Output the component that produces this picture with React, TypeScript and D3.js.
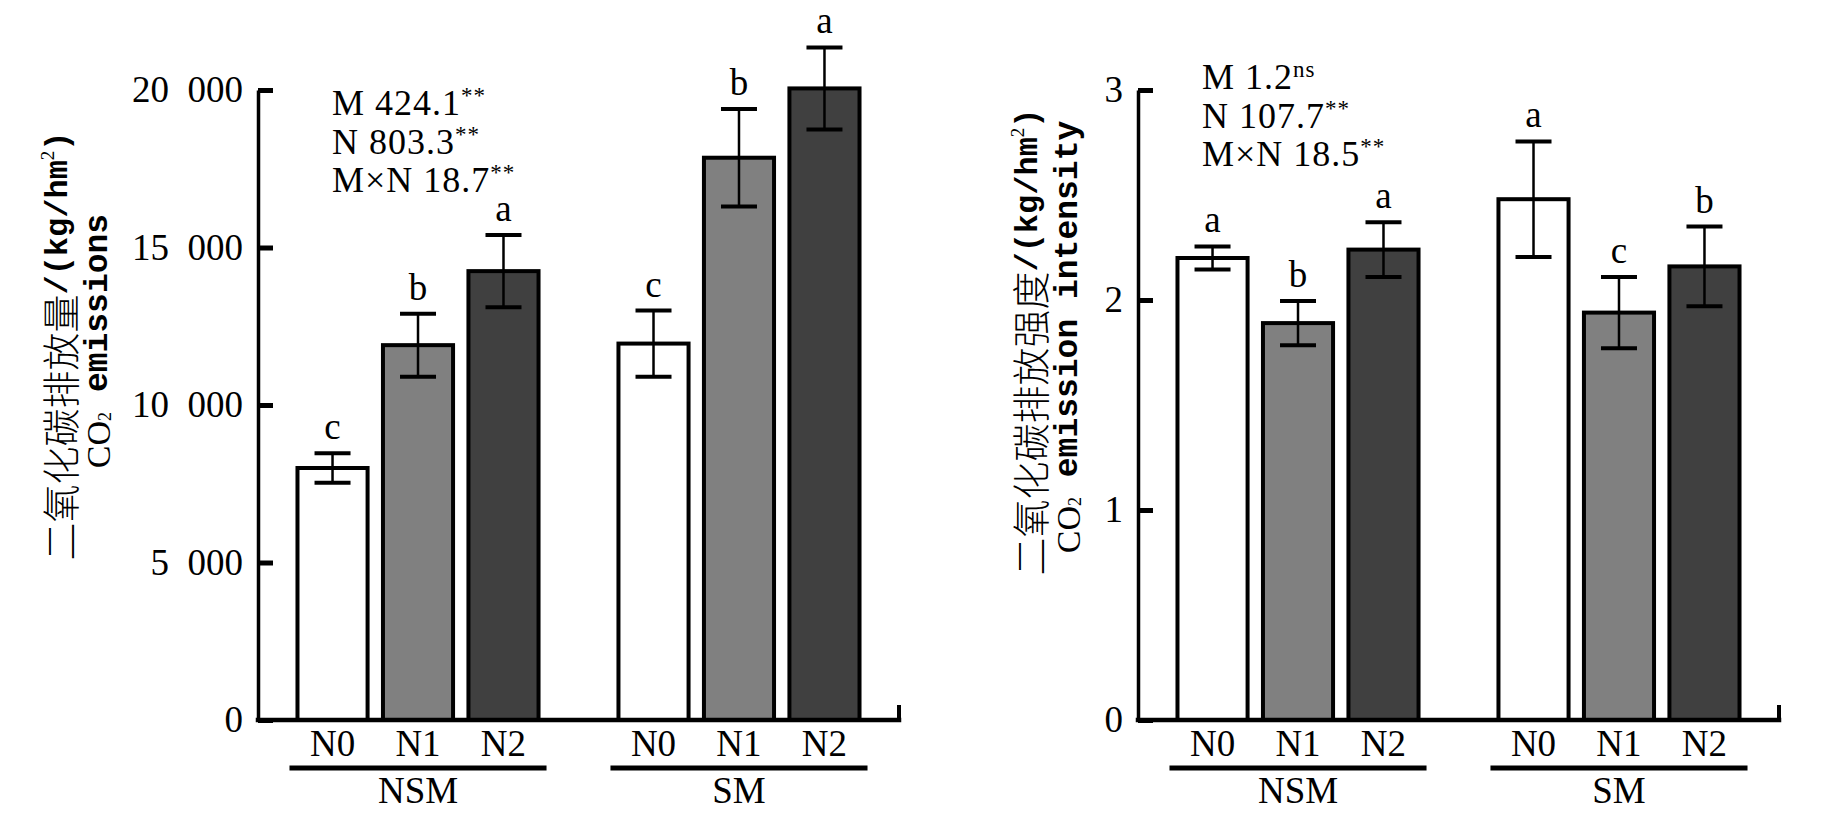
import React, { useEffect, useRef } from "react";
import * as d3 from "d3";

// categories
const groups = ["NSM", "SM"];
const levels = ["N0", "N1", "N2"];

// CO2 emissions (kg/hm2)
const emissionNSM = [8000, 11900, 14250];
const emissionSM = [11950, 17850, 20050];
const emissionErrNSM = [470, 1000, 1150];
const emissionErrSM = [1050, 1550, 1300];
const emissionLettersNSM = ["c", "b", "a"];
const emissionLettersSM = ["c", "b", "a"];
const emissionTicks = [0, 5000, 10000, 15000, 20000];
const emissionStats = [
  ["M", "424.1", "**"],
  ["N", "803.3", "**"],
  ["M×N", "18.7", "**"],
];

// CO2 emission intensity
const intensityNSM = [2.2, 1.89, 2.24];
const intensitySM = [2.48, 1.94, 2.16];
const intensityErrNSM = [0.055, 0.105, 0.13];
const intensityErrSM = [0.275, 0.17, 0.19];
const intensityLettersNSM = ["a", "b", "a"];
const intensityLettersSM = ["a", "c", "b"];
const intensityTicks = [0, 1, 2, 3];
const intensityStats = [
  ["M", "1.2", "ns"],
  ["N", "107.7", "**"],
  ["M×N", "18.5", "**"],
];

const fills = ["#ffffff", "#808080", "#404040"];
const serif = "'Liberation Serif', 'Times New Roman', serif";
const mono = "'Liberation Mono', 'Courier New', monospace";
const cjk = "'Noto Sans CJK SC', sans-serif";

export default function App() {
  const svgRef = useRef<SVGSVGElement>(null);

  useEffect(() => {
    if (!svgRef.current) return;
    const svg = d3.select(svgRef.current);
    svg.selectAll("*").remove();

    const panels = [
      {
        x0: 258,
        max: 20000,
        ticks: emissionTicks,
        fmt: (d: number) => (d === 0 ? "0" : d3.format(",")(d).replace(",", "\u2002")),
        means: [emissionNSM, emissionSM],
        errs: [emissionErrNSM, emissionErrSM],
        letters: [emissionLettersNSM, emissionLettersSM],
        stats: emissionStats,
        statX: 332,
        statY: 115,
        titleCn: "二氧化碳排放量",
        titleEn: " emissions",
        titleX: [58, 98],
        titleY: 346,
      },
      {
        x0: 1138,
        max: 3,
        ticks: intensityTicks,
        fmt: (d: number) => String(d),
        means: [intensityNSM, intensitySM],
        errs: [intensityErrNSM, intensityErrSM],
        letters: [intensityLettersNSM, intensityLettersSM],
        stats: intensityStats,
        statX: 1202,
        statY: 89,
        titleCn: "二氧化碳排放强度",
        titleEn: " emission intensity",
        titleX: [1028, 1068],
        titleY: 342,
      },
    ];

    panels.forEach((p) => {
      const g = svg.append("g");
      const plotW = 641;
      const baseY = 720;

      const x = d3
        .scaleBand<string>()
        .domain(groups)
        .range([p.x0, p.x0 + plotW])
        .paddingInner(0.249)
        .paddingOuter(0.123);
      const xi = d3
        .scaleBand<string>()
        .domain(levels)
        .range([0, x.bandwidth()])
        .paddingInner(0.18)
        .paddingOuter(0);
      const y = d3.scaleLinear().domain([0, p.max]).range([baseY, 90]);

      // bars
      groups.forEach((grp, gi) => {
        levels.forEach((lv, li) => {
          const v = p.means[gi][li];
          const e = p.errs[gi][li];
          const bx = (x(grp) as number) + (xi(lv) as number);
          const cx = bx + xi.bandwidth() / 2;

          g.append("rect")
            .attr("x", bx)
            .attr("y", y(v))
            .attr("width", xi.bandwidth())
            .attr("height", y(0) - y(v))
            .attr("fill", fills[li])
            .attr("stroke", "#000")
            .attr("stroke-width", 4);

          // error bar
          g.append("line")
            .attr("x1", cx)
            .attr("x2", cx)
            .attr("y1", y(v - e))
            .attr("y2", y(v + e))
            .attr("stroke", "#000")
            .attr("stroke-width", 2.5);
          [v - e, v + e].forEach((yy) => {
            g.append("line")
              .attr("x1", cx - 18)
              .attr("x2", cx + 18)
              .attr("y1", y(yy))
              .attr("y2", y(yy))
              .attr("stroke", "#000")
              .attr("stroke-width", 4);
          });

          g.append("text")
            .attr("x", cx)
            .attr("y", y(v + e) - 14)
            .attr("text-anchor", "middle")
            .style("font-family", serif)
            .style("font-size", "37px")
            .text(p.letters[gi][li]);

          // level label
          g.append("text")
            .attr("x", cx)
            .attr("y", 756)
            .attr("text-anchor", "middle")
            .style("font-family", serif)
            .style("font-size", "37px")
            .text(lv);
        });

        // group underline + label
        const gx = x(grp) as number;
        g.append("line")
          .attr("x1", gx - 8)
          .attr("x2", gx + x.bandwidth() + 8)
          .attr("y1", 768)
          .attr("y2", 768)
          .attr("stroke", "#000")
          .attr("stroke-width", 5);
        g.append("text")
          .attr("x", gx + x.bandwidth() / 2)
          .attr("y", 803)
          .attr("text-anchor", "middle")
          .style("font-family", serif)
          .style("font-size", "37px")
          .text(grp);
      });

      // y axis
      const yAxis = g
        .append("g")
        .attr("transform", `translate(${p.x0},0)`)
        .call(
          d3
            .axisLeft(y)
            .tickValues(p.ticks)
            .tickSize(-15)
            .tickSizeOuter(0)
            .tickPadding(15)
            .tickFormat(p.fmt as any)
        );
      yAxis.select(".domain").attr("stroke-width", 3.5);
      yAxis.selectAll(".tick line").attr("stroke-width", 5);
      yAxis
        .selectAll(".tick text")
        .style("font-family", serif)
        .style("font-size", "37px")
        .attr("fill", "#000");

      // x axis with the small upward tick at its end
      g.append("line")
        .attr("x1", p.x0)
        .attr("x2", p.x0 + plotW)
        .attr("y1", baseY)
        .attr("y2", baseY)
        .attr("stroke", "#000")
        .attr("stroke-width", 4.5)
        .attr("stroke-linecap", "square");
      g.append("line")
        .attr("x1", p.x0 + plotW)
        .attr("x2", p.x0 + plotW)
        .attr("y1", baseY)
        .attr("y2", baseY - 15)
        .attr("stroke", "#000")
        .attr("stroke-width", 4);

      // ANOVA stats
      p.stats.forEach((s, i) => {
        const t = g
          .append("text")
          .attr("x", p.statX)
          .attr("y", p.statY + i * 38.5)
          .style("font-family", serif)
          .style("font-size", "36px")
          .style("letter-spacing", "1px");
        t.append("tspan").text(`${s[0]} ${s[1]}`);
        t.append("tspan")
          .attr("dy", -12)
          .style("font-size", "23px")
          .text(s[2]);
      });

      // y title, two lines
      const t1 = g
        .append("text")
        .attr("transform", `translate(${p.titleX[0]},${p.titleY}) rotate(-90)`)
        .attr("text-anchor", "middle")
        .attr("dominant-baseline", "central");
      t1.append("tspan")
        .style("font-family", cjk)
        .style("font-weight", 300)
        .style("font-size", "38px")
        .text(p.titleCn);
      t1.append("tspan")
        .style("font-family", mono)
        .style("font-weight", "bold")
        .style("font-size", "32px")
        .text("/(kg/hm");
      t1.append("tspan")
        .attr("dy", -11)
        .style("font-family", serif)
        .style("font-size", "19px")
        .text("2");
      t1.append("tspan")
        .attr("dy", 11)
        .style("font-family", mono)
        .style("font-weight", "bold")
        .style("font-size", "32px")
        .text(")");

      const t2 = g
        .append("text")
        .attr("transform", `translate(${p.titleX[1]},${p.titleY - 5}) rotate(-90)`)
        .attr("text-anchor", "middle")
        .attr("dominant-baseline", "central");
      t2.append("tspan")
        .style("font-family", serif)
        .style("font-size", "34px")
        .text("CO");
      t2.append("tspan")
        .attr("dy", 7)
        .style("font-family", serif)
        .style("font-size", "18px")
        .text("2");
      t2.append("tspan")
        .attr("dy", -7)
        .style("font-family", mono)
        .style("font-weight", "bold")
        .style("font-size", "33px")
        .text(p.titleEn);
    });
  }, []);

  return (
    <svg
      ref={svgRef}
      width={1832}
      height={826}
      style={{ position: "absolute", left: 0, top: 0, background: "#fff" }}
    />
  );
}
